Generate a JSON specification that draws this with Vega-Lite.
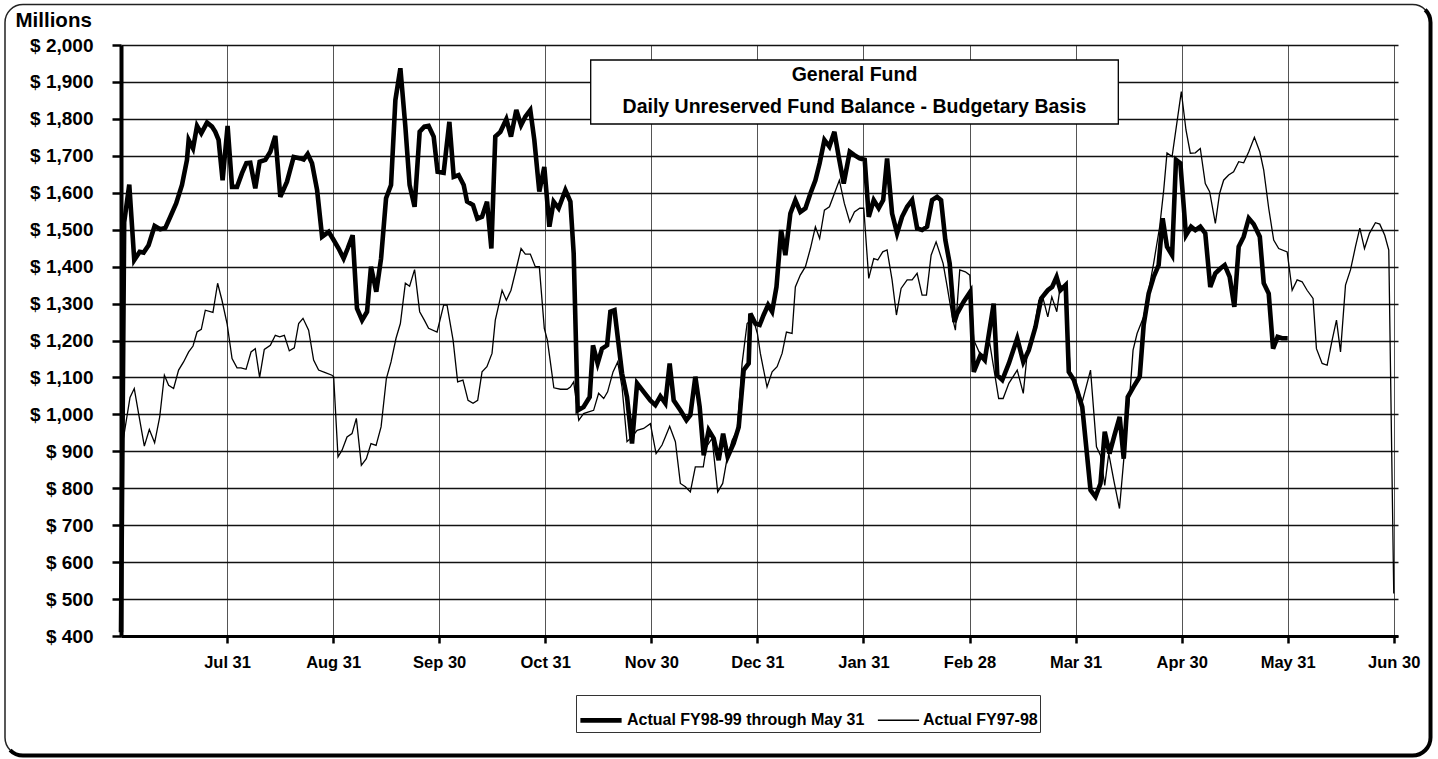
{
"$schema":"https://vega.github.io/schema/vega-lite/v6.json",
"width":1277,"height":591,
"autosize":{"type":"none"},
"padding":{"left":121,"top":45,"right":40,"bottom":123},
"background":"white",
"config":{"font":"Liberation Sans","view":{"stroke":null}},
"datasets":{"lines":[
{"s":"FY98-99","t":0,"v":410},{"s":"FY98-99","t":0.03,"v":1520},{"s":"FY98-99","t":0.078,"v":1622},{"s":"FY98-99","t":0.125,"v":1418},{"s":"FY98-99","t":0.176,"v":1440},{"s":"FY98-99","t":0.213,"v":1438},{"s":"FY98-99","t":0.26,"v":1458},{"s":"FY98-99","t":0.317,"v":1510},{"s":"FY98-99","t":0.37,"v":1501},{"s":"FY98-99","t":0.418,"v":1505},{"s":"FY98-99","t":0.465,"v":1535},{"s":"FY98-99","t":0.52,"v":1571},{"s":"FY98-99","t":0.575,"v":1621},{"s":"FY98-99","t":0.622,"v":1689},{"s":"FY98-99","t":0.638,"v":1743},{"s":"FY98-99","t":0.679,"v":1720},{"s":"FY98-99","t":0.717,"v":1781},{"s":"FY98-99","t":0.757,"v":1761},{"s":"FY98-99","t":0.811,"v":1790},{"s":"FY98-99","t":0.858,"v":1779},{"s":"FY98-99","t":0.889,"v":1765},{"s":"FY98-99","t":0.92,"v":1743},{"s":"FY98-99","t":0.958,"v":1634},{"s":"FY98-99","t":1.005,"v":1781},{"s":"FY98-99","t":1.047,"v":1616},{"s":"FY98-99","t":1.094,"v":1616},{"s":"FY98-99","t":1.141,"v":1653},{"s":"FY98-99","t":1.182,"v":1680},{"s":"FY98-99","t":1.219,"v":1681},{"s":"FY98-99","t":1.266,"v":1612},{"s":"FY98-99","t":1.307,"v":1684},{"s":"FY98-99","t":1.361,"v":1689},{"s":"FY98-99","t":1.408,"v":1711},{"s":"FY98-99","t":1.455,"v":1754},{"s":"FY98-99","t":1.502,"v":1589},{"s":"FY98-99","t":1.565,"v":1630},{"s":"FY98-99","t":1.628,"v":1697},{"s":"FY98-99","t":1.691,"v":1693},{"s":"FY98-99","t":1.722,"v":1690},{"s":"FY98-99","t":1.76,"v":1705},{"s":"FY98-99","t":1.801,"v":1680},{"s":"FY98-99","t":1.849,"v":1607},{"s":"FY98-99","t":1.896,"v":1481},{"s":"FY98-99","t":1.958,"v":1494},{"s":"FY98-99","t":2.005,"v":1472},{"s":"FY98-99","t":2.052,"v":1449},{"s":"FY98-99","t":2.099,"v":1422},{"s":"FY98-99","t":2.137,"v":1449},{"s":"FY98-99","t":2.184,"v":1485},{"s":"FY98-99","t":2.225,"v":1287},{"s":"FY98-99","t":2.273,"v":1255},{"s":"FY98-99","t":2.32,"v":1278},{"s":"FY98-99","t":2.357,"v":1400},{"s":"FY98-99","t":2.407,"v":1332},{"s":"FY98-99","t":2.452,"v":1422},{"s":"FY98-99","t":2.499,"v":1585},{"s":"FY98-99","t":2.546,"v":1621},{"s":"FY98-99","t":2.587,"v":1851},{"s":"FY98-99","t":2.634,"v":1937},{"s":"FY98-99","t":2.681,"v":1779},{"s":"FY98-99","t":2.721,"v":1621},{"s":"FY98-99","t":2.768,"v":1562},{"s":"FY98-99","t":2.816,"v":1765},{"s":"FY98-99","t":2.86,"v":1779},{"s":"FY98-99","t":2.9,"v":1781},{"s":"FY98-99","t":2.948,"v":1752},{"s":"FY98-99","t":2.985,"v":1657},{"s":"FY98-99","t":3.042,"v":1654},{"s":"FY98-99","t":3.096,"v":1792},{"s":"FY98-99","t":3.137,"v":1643},{"s":"FY98-99","t":3.183,"v":1648},{"s":"FY98-99","t":3.231,"v":1621},{"s":"FY98-99","t":3.263,"v":1576},{"s":"FY98-99","t":3.319,"v":1567},{"s":"FY98-99","t":3.36,"v":1530},{"s":"FY98-99","t":3.404,"v":1535},{"s":"FY98-99","t":3.451,"v":1576},{"s":"FY98-99","t":3.492,"v":1449},{"s":"FY98-99","t":3.529,"v":1752},{"s":"FY98-99","t":3.577,"v":1765},{"s":"FY98-99","t":3.633,"v":1799},{"s":"FY98-99","t":3.677,"v":1752},{"s":"FY98-99","t":3.727,"v":1824},{"s":"FY98-99","t":3.772,"v":1783},{"s":"FY98-99","t":3.812,"v":1806},{"s":"FY98-99","t":3.859,"v":1824},{"s":"FY98-99","t":3.897,"v":1743},{"s":"FY98-99","t":3.944,"v":1603},{"s":"FY98-99","t":3.991,"v":1670},{"s":"FY98-99","t":4.039,"v":1508},{"s":"FY98-99","t":4.079,"v":1576},{"s":"FY98-99","t":4.126,"v":1558},{"s":"FY98-99","t":4.19,"v":1607},{"s":"FY98-99","t":4.237,"v":1576},{"s":"FY98-99","t":4.268,"v":1436},{"s":"FY98-99","t":4.306,"v":1011},{"s":"FY98-99","t":4.361,"v":1020},{"s":"FY98-99","t":4.419,"v":1047},{"s":"FY98-99","t":4.45,"v":1187},{"s":"FY98-99","t":4.494,"v":1138},{"s":"FY98-99","t":4.535,"v":1178},{"s":"FY98-99","t":4.583,"v":1187},{"s":"FY98-99","t":4.614,"v":1278},{"s":"FY98-99","t":4.653,"v":1282},{"s":"FY98-99","t":4.724,"v":1111},{"s":"FY98-99","t":4.771,"v":1047},{"s":"FY98-99","t":4.818,"v":921},{"s":"FY98-99","t":4.866,"v":1084},{"s":"FY98-99","t":4.928,"v":1061},{"s":"FY98-99","t":4.991,"v":1038},{"s":"FY98-99","t":5.038,"v":1025},{"s":"FY98-99","t":5.085,"v":1049},{"s":"FY98-99","t":5.132,"v":1030},{"s":"FY98-99","t":5.173,"v":1138},{"s":"FY98-99","t":5.211,"v":1038},{"s":"FY98-99","t":5.274,"v":1011},{"s":"FY98-99","t":5.331,"v":984},{"s":"FY98-99","t":5.368,"v":998},{"s":"FY98-99","t":5.415,"v":1102},{"s":"FY98-99","t":5.456,"v":1020},{"s":"FY98-99","t":5.494,"v":889},{"s":"FY98-99","t":5.541,"v":957},{"s":"FY98-99","t":5.588,"v":935},{"s":"FY98-99","t":5.635,"v":876},{"s":"FY98-99","t":5.677,"v":948},{"s":"FY98-99","t":5.72,"v":885},{"s":"FY98-99","t":5.776,"v":921},{"s":"FY98-99","t":5.824,"v":966},{"s":"FY98-99","t":5.871,"v":1120},{"s":"FY98-99","t":5.918,"v":1138},{"s":"FY98-99","t":5.934,"v":1273},{"s":"FY98-99","t":5.981,"v":1246},{"s":"FY98-99","t":6.022,"v":1242},{"s":"FY98-99","t":6.059,"v":1269},{"s":"FY98-99","t":6.101,"v":1296},{"s":"FY98-99","t":6.139,"v":1278},{"s":"FY98-99","t":6.18,"v":1345},{"s":"FY98-99","t":6.224,"v":1499},{"s":"FY98-99","t":6.264,"v":1431},{"s":"FY98-99","t":6.311,"v":1544},{"s":"FY98-99","t":6.358,"v":1580},{"s":"FY98-99","t":6.405,"v":1548},{"s":"FY98-99","t":6.453,"v":1558},{"s":"FY98-99","t":6.5,"v":1598},{"s":"FY98-99","t":6.547,"v":1634},{"s":"FY98-99","t":6.587,"v":1680},{"s":"FY98-99","t":6.632,"v":1743},{"s":"FY98-99","t":6.679,"v":1725},{"s":"FY98-99","t":6.726,"v":1765},{"s":"FY98-99","t":6.767,"v":1697},{"s":"FY98-99","t":6.814,"v":1625},{"s":"FY98-99","t":6.871,"v":1711},{"s":"FY98-99","t":6.915,"v":1702},{"s":"FY98-99","t":6.965,"v":1693},{"s":"FY98-99","t":7.012,"v":1689},{"s":"FY98-99","t":7.05,"v":1535},{"s":"FY98-99","t":7.097,"v":1580},{"s":"FY98-99","t":7.144,"v":1558},{"s":"FY98-99","t":7.186,"v":1580},{"s":"FY98-99","t":7.223,"v":1693},{"s":"FY98-99","t":7.27,"v":1544},{"s":"FY98-99","t":7.317,"v":1490},{"s":"FY98-99","t":7.364,"v":1535},{"s":"FY98-99","t":7.412,"v":1562},{"s":"FY98-99","t":7.459,"v":1580},{"s":"FY98-99","t":7.506,"v":1504},{"s":"FY98-99","t":7.553,"v":1499},{"s":"FY98-99","t":7.6,"v":1508},{"s":"FY98-99","t":7.647,"v":1580},{"s":"FY98-99","t":7.694,"v":1589},{"s":"FY98-99","t":7.732,"v":1580},{"s":"FY98-99","t":7.772,"v":1472},{"s":"FY98-99","t":7.813,"v":1409},{"s":"FY98-99","t":7.858,"v":1250},{"s":"FY98-99","t":7.883,"v":1273},{"s":"FY98-99","t":7.945,"v":1305},{"s":"FY98-99","t":8.008,"v":1332},{"s":"FY98-99","t":8.04,"v":1115},{"s":"FY98-99","t":8.103,"v":1160},{"s":"FY98-99","t":8.144,"v":1147},{"s":"FY98-99","t":8.228,"v":1300},{"s":"FY98-99","t":8.262,"v":1106},{"s":"FY98-99","t":8.309,"v":1093},{"s":"FY98-99","t":8.371,"v":1138},{"s":"FY98-99","t":8.45,"v":1206},{"s":"FY98-99","t":8.507,"v":1142},{"s":"FY98-99","t":8.559,"v":1174},{"s":"FY98-99","t":8.622,"v":1237},{"s":"FY98-99","t":8.676,"v":1314},{"s":"FY98-99","t":8.738,"v":1336},{"s":"FY98-99","t":8.779,"v":1345},{"s":"FY98-99","t":8.821,"v":1372},{"s":"FY98-99","t":8.857,"v":1336},{"s":"FY98-99","t":8.907,"v":1350},{"s":"FY98-99","t":8.936,"v":1115},{"s":"FY98-99","t":8.984,"v":1093},{"s":"FY98-99","t":9.063,"v":1020},{"s":"FY98-99","t":9.141,"v":795},{"s":"FY98-99","t":9.188,"v":777},{"s":"FY98-99","t":9.235,"v":813},{"s":"FY98-99","t":9.275,"v":953},{"s":"FY98-99","t":9.32,"v":894},{"s":"FY98-99","t":9.367,"v":944},{"s":"FY98-99","t":9.416,"v":993},{"s":"FY98-99","t":9.454,"v":880},{"s":"FY98-99","t":9.492,"v":1047},{"s":"FY98-99","t":9.548,"v":1075},{"s":"FY98-99","t":9.605,"v":1102},{"s":"FY98-99","t":9.642,"v":1242},{"s":"FY98-99","t":9.689,"v":1327},{"s":"FY98-99","t":9.736,"v":1372},{"s":"FY98-99","t":9.783,"v":1404},{"s":"FY98-99","t":9.821,"v":1531},{"s":"FY98-99","t":9.862,"v":1454},{"s":"FY98-99","t":9.91,"v":1431},{"s":"FY98-99","t":9.947,"v":1689},{"s":"FY98-99","t":9.988,"v":1680},{"s":"FY98-99","t":10.041,"v":1485},{"s":"FY98-99","t":10.089,"v":1508},{"s":"FY98-99","t":10.129,"v":1499},{"s":"FY98-99","t":10.176,"v":1508},{"s":"FY98-99","t":10.223,"v":1490},{"s":"FY98-99","t":10.27,"v":1345},{"s":"FY98-99","t":10.318,"v":1382},{"s":"FY98-99","t":10.365,"v":1395},{"s":"FY98-99","t":10.406,"v":1404},{"s":"FY98-99","t":10.453,"v":1372},{"s":"FY98-99","t":10.497,"v":1291},{"s":"FY98-99","t":10.538,"v":1454},{"s":"FY98-99","t":10.585,"v":1481},{"s":"FY98-99","t":10.633,"v":1531},{"s":"FY98-99","t":10.68,"v":1515},{"s":"FY98-99","t":10.737,"v":1481},{"s":"FY98-99","t":10.774,"v":1355},{"s":"FY98-99","t":10.821,"v":1327},{"s":"FY98-99","t":10.862,"v":1178},{"s":"FY98-99","t":10.905,"v":1210},{"s":"FY98-99","t":10.947,"v":1206},{"s":"FY98-99","t":11.0,"v":1206},
{"s":"FY97-98","t":0,"v":925},{"s":"FY97-98","t":0.02,"v":930},{"s":"FY97-98","t":0.085,"v":1046},{"s":"FY97-98","t":0.125,"v":1070},{"s":"FY97-98","t":0.166,"v":1002},{"s":"FY97-98","t":0.22,"v":914},{"s":"FY97-98","t":0.267,"v":959},{"s":"FY97-98","t":0.317,"v":923},{"s":"FY97-98","t":0.365,"v":993},{"s":"FY97-98","t":0.409,"v":1106},{"s":"FY97-98","t":0.449,"v":1079},{"s":"FY97-98","t":0.496,"v":1070},{"s":"FY97-98","t":0.543,"v":1120},{"s":"FY97-98","t":0.59,"v":1142},{"s":"FY97-98","t":0.638,"v":1169},{"s":"FY97-98","t":0.679,"v":1185},{"s":"FY97-98","t":0.717,"v":1223},{"s":"FY97-98","t":0.757,"v":1230},{"s":"FY97-98","t":0.795,"v":1282},{"s":"FY97-98","t":0.867,"v":1276},{"s":"FY97-98","t":0.911,"v":1355},{"s":"FY97-98","t":0.952,"v":1309},{"s":"FY97-98","t":1.0,"v":1246},{"s":"FY97-98","t":1.047,"v":1151},{"s":"FY97-98","t":1.094,"v":1126},{"s":"FY97-98","t":1.132,"v":1126},{"s":"FY97-98","t":1.179,"v":1122},{"s":"FY97-98","t":1.226,"v":1169},{"s":"FY97-98","t":1.266,"v":1178},{"s":"FY97-98","t":1.307,"v":1100},{"s":"FY97-98","t":1.351,"v":1176},{"s":"FY97-98","t":1.408,"v":1187},{"s":"FY97-98","t":1.455,"v":1214},{"s":"FY97-98","t":1.496,"v":1210},{"s":"FY97-98","t":1.54,"v":1214},{"s":"FY97-98","t":1.587,"v":1172},{"s":"FY97-98","t":1.634,"v":1180},{"s":"FY97-98","t":1.675,"v":1246},{"s":"FY97-98","t":1.716,"v":1260},{"s":"FY97-98","t":1.769,"v":1228},{"s":"FY97-98","t":1.816,"v":1147},{"s":"FY97-98","t":1.863,"v":1120},{"s":"FY97-98","t":1.926,"v":1113},{"s":"FY97-98","t":1.989,"v":1106},{"s":"FY97-98","t":2.005,"v":1102},{"s":"FY97-98","t":2.046,"v":885},{"s":"FY97-98","t":2.084,"v":903},{"s":"FY97-98","t":2.131,"v":939},{"s":"FY97-98","t":2.178,"v":948},{"s":"FY97-98","t":2.219,"v":989},{"s":"FY97-98","t":2.266,"v":862},{"s":"FY97-98","t":2.313,"v":880},{"s":"FY97-98","t":2.357,"v":921},{"s":"FY97-98","t":2.405,"v":916},{"s":"FY97-98","t":2.452,"v":966},{"s":"FY97-98","t":2.502,"v":1097},{"s":"FY97-98","t":2.546,"v":1142},{"s":"FY97-98","t":2.593,"v":1206},{"s":"FY97-98","t":2.634,"v":1246},{"s":"FY97-98","t":2.681,"v":1355},{"s":"FY97-98","t":2.721,"v":1347},{"s":"FY97-98","t":2.768,"v":1392},{"s":"FY97-98","t":2.816,"v":1278},{"s":"FY97-98","t":2.86,"v":1255},{"s":"FY97-98","t":2.9,"v":1233},{"s":"FY97-98","t":2.98,"v":1223},{"s":"FY97-98","t":3.042,"v":1296},{"s":"FY97-98","t":3.074,"v":1296},{"s":"FY97-98","t":3.131,"v":1201},{"s":"FY97-98","t":3.174,"v":1088},{"s":"FY97-98","t":3.224,"v":1093},{"s":"FY97-98","t":3.272,"v":1038},{"s":"FY97-98","t":3.319,"v":1030},{"s":"FY97-98","t":3.363,"v":1038},{"s":"FY97-98","t":3.404,"v":1115},{"s":"FY97-98","t":3.45,"v":1129},{"s":"FY97-98","t":3.498,"v":1165},{"s":"FY97-98","t":3.529,"v":1255},{"s":"FY97-98","t":3.593,"v":1336},{"s":"FY97-98","t":3.633,"v":1309},{"s":"FY97-98","t":3.677,"v":1336},{"s":"FY97-98","t":3.727,"v":1395},{"s":"FY97-98","t":3.772,"v":1449},{"s":"FY97-98","t":3.812,"v":1434},{"s":"FY97-98","t":3.859,"v":1434},{"s":"FY97-98","t":3.906,"v":1400},{"s":"FY97-98","t":3.944,"v":1400},{"s":"FY97-98","t":3.991,"v":1233},{"s":"FY97-98","t":4.02,"v":1201},{"s":"FY97-98","t":4.05,"v":1138},{"s":"FY97-98","t":4.081,"v":1072},{"s":"FY97-98","t":4.144,"v":1068},{"s":"FY97-98","t":4.206,"v":1068},{"s":"FY97-98","t":4.237,"v":1074},{"s":"FY97-98","t":4.268,"v":1088},{"s":"FY97-98","t":4.316,"v":984},{"s":"FY97-98","t":4.361,"v":1002},{"s":"FY97-98","t":4.409,"v":1007},{"s":"FY97-98","t":4.456,"v":1011},{"s":"FY97-98","t":4.503,"v":1057},{"s":"FY97-98","t":4.551,"v":1043},{"s":"FY97-98","t":4.588,"v":1061},{"s":"FY97-98","t":4.639,"v":1115},{"s":"FY97-98","t":4.683,"v":1142},{"s":"FY97-98","t":4.724,"v":1074},{"s":"FY97-98","t":4.771,"v":926},{"s":"FY97-98","t":4.818,"v":939},{"s":"FY97-98","t":4.866,"v":957},{"s":"FY97-98","t":4.928,"v":962},{"s":"FY97-98","t":4.991,"v":975},{"s":"FY97-98","t":5.045,"v":894},{"s":"FY97-98","t":5.101,"v":917},{"s":"FY97-98","t":5.132,"v":939},{"s":"FY97-98","t":5.173,"v":968},{"s":"FY97-98","t":5.227,"v":926},{"s":"FY97-98","t":5.274,"v":813},{"s":"FY97-98","t":5.321,"v":804},{"s":"FY97-98","t":5.368,"v":790},{"s":"FY97-98","t":5.415,"v":858},{"s":"FY97-98","t":5.462,"v":858},{"s":"FY97-98","t":5.49,"v":858},{"s":"FY97-98","t":5.519,"v":912},{"s":"FY97-98","t":5.573,"v":935},{"s":"FY97-98","t":5.626,"v":790},{"s":"FY97-98","t":5.673,"v":813},{"s":"FY97-98","t":5.714,"v":880},{"s":"FY97-98","t":5.762,"v":930},{"s":"FY97-98","t":5.809,"v":957},{"s":"FY97-98","t":5.856,"v":1138},{"s":"FY97-98","t":5.903,"v":1246},{"s":"FY97-98","t":5.959,"v":1260},{"s":"FY97-98","t":6.0,"v":1219},{"s":"FY97-98","t":6.028,"v":1165},{"s":"FY97-98","t":6.091,"v":1074},{"s":"FY97-98","t":6.139,"v":1115},{"s":"FY97-98","t":6.186,"v":1129},{"s":"FY97-98","t":6.233,"v":1165},{"s":"FY97-98","t":6.274,"v":1223},{"s":"FY97-98","t":6.327,"v":1219},{"s":"FY97-98","t":6.358,"v":1345},{"s":"FY97-98","t":6.405,"v":1377},{"s":"FY97-98","t":6.453,"v":1400},{"s":"FY97-98","t":6.5,"v":1449},{"s":"FY97-98","t":6.547,"v":1508},{"s":"FY97-98","t":6.587,"v":1476},{"s":"FY97-98","t":6.632,"v":1553},{"s":"FY97-98","t":6.679,"v":1562},{"s":"FY97-98","t":6.726,"v":1598},{"s":"FY97-98","t":6.773,"v":1634},{"s":"FY97-98","t":6.82,"v":1571},{"s":"FY97-98","t":6.871,"v":1521},{"s":"FY97-98","t":6.915,"v":1548},{"s":"FY97-98","t":6.965,"v":1558},{"s":"FY97-98","t":7.003,"v":1558},{"s":"FY97-98","t":7.05,"v":1368},{"s":"FY97-98","t":7.097,"v":1422},{"s":"FY97-98","t":7.135,"v":1418},{"s":"FY97-98","t":7.182,"v":1440},{"s":"FY97-98","t":7.223,"v":1445},{"s":"FY97-98","t":7.27,"v":1364},{"s":"FY97-98","t":7.311,"v":1269},{"s":"FY97-98","t":7.355,"v":1341},{"s":"FY97-98","t":7.412,"v":1364},{"s":"FY97-98","t":7.459,"v":1364},{"s":"FY97-98","t":7.506,"v":1382},{"s":"FY97-98","t":7.553,"v":1323},{"s":"FY97-98","t":7.594,"v":1323},{"s":"FY97-98","t":7.638,"v":1431},{"s":"FY97-98","t":7.685,"v":1467},{"s":"FY97-98","t":7.751,"v":1409},{"s":"FY97-98","t":7.79,"v":1345},{"s":"FY97-98","t":7.837,"v":1264},{"s":"FY97-98","t":7.867,"v":1228},{"s":"FY97-98","t":7.908,"v":1391},{"s":"FY97-98","t":7.961,"v":1386},{"s":"FY97-98","t":8.003,"v":1377},{"s":"FY97-98","t":8.04,"v":1201},{"s":"FY97-98","t":8.097,"v":1165},{"s":"FY97-98","t":8.144,"v":1160},{"s":"FY97-98","t":8.191,"v":1192},{"s":"FY97-98","t":8.275,"v":1043},{"s":"FY97-98","t":8.317,"v":1043},{"s":"FY97-98","t":8.371,"v":1084},{"s":"FY97-98","t":8.45,"v":1120},{"s":"FY97-98","t":8.507,"v":1057},{"s":"FY97-98","t":8.544,"v":1165},{"s":"FY97-98","t":8.607,"v":1228},{"s":"FY97-98","t":8.654,"v":1309},{"s":"FY97-98","t":8.69,"v":1318},{"s":"FY97-98","t":8.738,"v":1264},{"s":"FY97-98","t":8.776,"v":1318},{"s":"FY97-98","t":8.823,"v":1278},{"s":"FY97-98","t":8.857,"v":1350},{"s":"FY97-98","t":8.904,"v":1336},{"s":"FY97-98","t":8.951,"v":1111},{"s":"FY97-98","t":8.984,"v":1093},{"s":"FY97-98","t":9.063,"v":1034},{"s":"FY97-98","t":9.141,"v":1120},{"s":"FY97-98","t":9.197,"v":912},{"s":"FY97-98","t":9.235,"v":889},{"s":"FY97-98","t":9.275,"v":808},{"s":"FY97-98","t":9.313,"v":894},{"s":"FY97-98","t":9.36,"v":822},{"s":"FY97-98","t":9.414,"v":745},{"s":"FY97-98","t":9.454,"v":876},{"s":"FY97-98","t":9.517,"v":1075},{"s":"FY97-98","t":9.542,"v":1174},{"s":"FY97-98","t":9.58,"v":1219},{"s":"FY97-98","t":9.642,"v":1264},{"s":"FY97-98","t":9.689,"v":1336},{"s":"FY97-98","t":9.736,"v":1409},{"s":"FY97-98","t":9.793,"v":1508},{"s":"FY97-98","t":9.831,"v":1607},{"s":"FY97-98","t":9.862,"v":1708},{"s":"FY97-98","t":9.91,"v":1698},{"s":"FY97-98","t":9.997,"v":1874},{"s":"FY97-98","t":10.041,"v":1770},{"s":"FY97-98","t":10.082,"v":1707},{"s":"FY97-98","t":10.129,"v":1708},{"s":"FY97-98","t":10.176,"v":1720},{"s":"FY97-98","t":10.223,"v":1625},{"s":"FY97-98","t":10.264,"v":1603},{"s":"FY97-98","t":10.318,"v":1517},{"s":"FY97-98","t":10.358,"v":1598},{"s":"FY97-98","t":10.396,"v":1634},{"s":"FY97-98","t":10.443,"v":1648},{"s":"FY97-98","t":10.49,"v":1657},{"s":"FY97-98","t":10.538,"v":1684},{"s":"FY97-98","t":10.585,"v":1681},{"s":"FY97-98","t":10.633,"v":1711},{"s":"FY97-98","t":10.686,"v":1750},{"s":"FY97-98","t":10.737,"v":1711},{"s":"FY97-98","t":10.774,"v":1661},{"s":"FY97-98","t":10.821,"v":1558},{"s":"FY97-98","t":10.868,"v":1472},{"s":"FY97-98","t":10.915,"v":1449},{"s":"FY97-98","t":10.995,"v":1440},{"s":"FY97-98","t":11.042,"v":1336},{"s":"FY97-98","t":11.089,"v":1364},{"s":"FY97-98","t":11.136,"v":1359},{"s":"FY97-98","t":11.183,"v":1336},{"s":"FY97-98","t":11.239,"v":1314},{"s":"FY97-98","t":11.271,"v":1178},{"s":"FY97-98","t":11.325,"v":1138},{"s":"FY97-98","t":11.372,"v":1133},{"s":"FY97-98","t":11.419,"v":1201},{"s":"FY97-98","t":11.46,"v":1255},{"s":"FY97-98","t":11.498,"v":1169},{"s":"FY97-98","t":11.545,"v":1350},{"s":"FY97-98","t":11.592,"v":1391},{"s":"FY97-98","t":11.639,"v":1454},{"s":"FY97-98","t":11.68,"v":1504},{"s":"FY97-98","t":11.724,"v":1449},{"s":"FY97-98","t":11.771,"v":1490},{"s":"FY97-98","t":11.827,"v":1519},{"s":"FY97-98","t":11.868,"v":1515},{"s":"FY97-98","t":11.915,"v":1485},{"s":"FY97-98","t":11.953,"v":1445},{"s":"FY97-98","t":12.0,"v":515}
]},
"layer":[
{"data":{"name":"lines"},
 "mark":{"type":"line","color":"black","strokeMiterLimit":4},
 "encoding":{
  "x":{"field":"t","type":"quantitative","scale":{"domain":[0,12.04],"nice":false,"zero":false},
   "axis":{"values":[1,2,3,4,5,6,7,8,9,10,11,12],"labelExpr":"['','Jul 31','Aug 31','Sep 30','Oct 31','Nov 30','Dec 31','Jan 31','Feb 28','Mar 31','Apr 30','May 31','Jun 30'][datum.value]","title":null,"grid":true,"gridColor":"#555","gridWidth":1,"domainColor":"black","domainWidth":3,"tickColor":"black","tickWidth":2.5,"tickSize":7,"labelFontSize":16.5,"labelFontWeight":"bold","labelColor":"black","labelPadding":11,"labelFlush":false,"labelOverlap":false}},
  "y":{"field":"v","type":"quantitative","scale":{"domain":[400,2000],"nice":false,"zero":false},
   "axis":{"values":[400,500,600,700,800,900,1000,1100,1200,1300,1400,1500,1600,1700,1800,1900,2000],"tickCount":17,"labelOverlap":false,"labelExpr":"'$ ' + format(datum.value, ',')","title":"Millions","titleAngle":0,"titleAlign":"left","titleBaseline":"alphabetic","titleX":-106,"titleY":-19,"titleFontSize":20.5,"titleFontWeight":"bold","titleColor":"black","grid":true,"gridColor":"#111","gridWidth":1.3,"domainColor":"black","domainWidth":4,"tickColor":"black","tickWidth":2.5,"tickSize":9,"labelFontSize":19,"labelFontWeight":"bold","labelColor":"black","labelPadding":19}},
  "strokeWidth":{"field":"s","type":"ordinal","scale":{"domain":["FY98-99","FY97-98"],"range":[4.6,1.3]},
   "legend":{"title":null,"orient":"none","legendX":455,"legendY":650,"direction":"horizontal","strokeColor":"#333","fillColor":"white","padding":2,"symbolType":"stroke","symbolStrokeColor":"black","symbolSize":1700,"labelFontSize":16,"labelFontWeight":"bold","labelColor":"black","labelLimit":400,"columnPadding":10,"labelOffset":3,"labelExpr":"datum.label == 'FY98-99' ? 'Actual FY98-99 through May 31' : 'Actual FY97-98'"}}
 }},
{"data":{"values":[{}]},
 "mark":{"type":"rect","filled":false,"stroke":"#222","strokeWidth":1.5,"cornerRadius":18},
 "encoding":{"x":{"datum":-1.0937,"type":"quantitative"},"x2":{"datum":12.3465},"y":{"datum":2109.6,"type":"quantitative"},"y2":{"datum":76.5}}},
{"data":{"values":[{}]},
 "mark":{"type":"rect","filled":false,"stroke":"black","strokeWidth":4,"cornerRadius":18,"strokeDash":[2161,2161],"strokeDashOffset":2918.5},
 "encoding":{"x":{"datum":-1.0937,"type":"quantitative"},"x2":{"datum":12.3465},"y":{"datum":2109.6,"type":"quantitative"},"y2":{"datum":76.5}}},
{"data":{"values":[{}]},
 "mark":{"type":"rect","fill":"white","stroke":"black","strokeWidth":1.3},
 "encoding":{"x":{"datum":4.4285,"type":"quantitative"},"x2":{"datum":9.403},"y":{"datum":1959.4,"type":"quantitative"},"y2":{"datum":1786.1}}},
{"data":{"values":[{}]},
 "mark":{"type":"text","text":["General Fund","Daily Unreserved Fund Balance - Budgetary Basis"],"align":"center","baseline":"alphabetic","lineHeight":31.7,"fontSize":19.5,"fontWeight":"bold","color":"black"},
 "encoding":{"x":{"datum":6.9157,"type":"quantitative"},"y":{"datum":1902.5,"type":"quantitative"}}}
]
}
